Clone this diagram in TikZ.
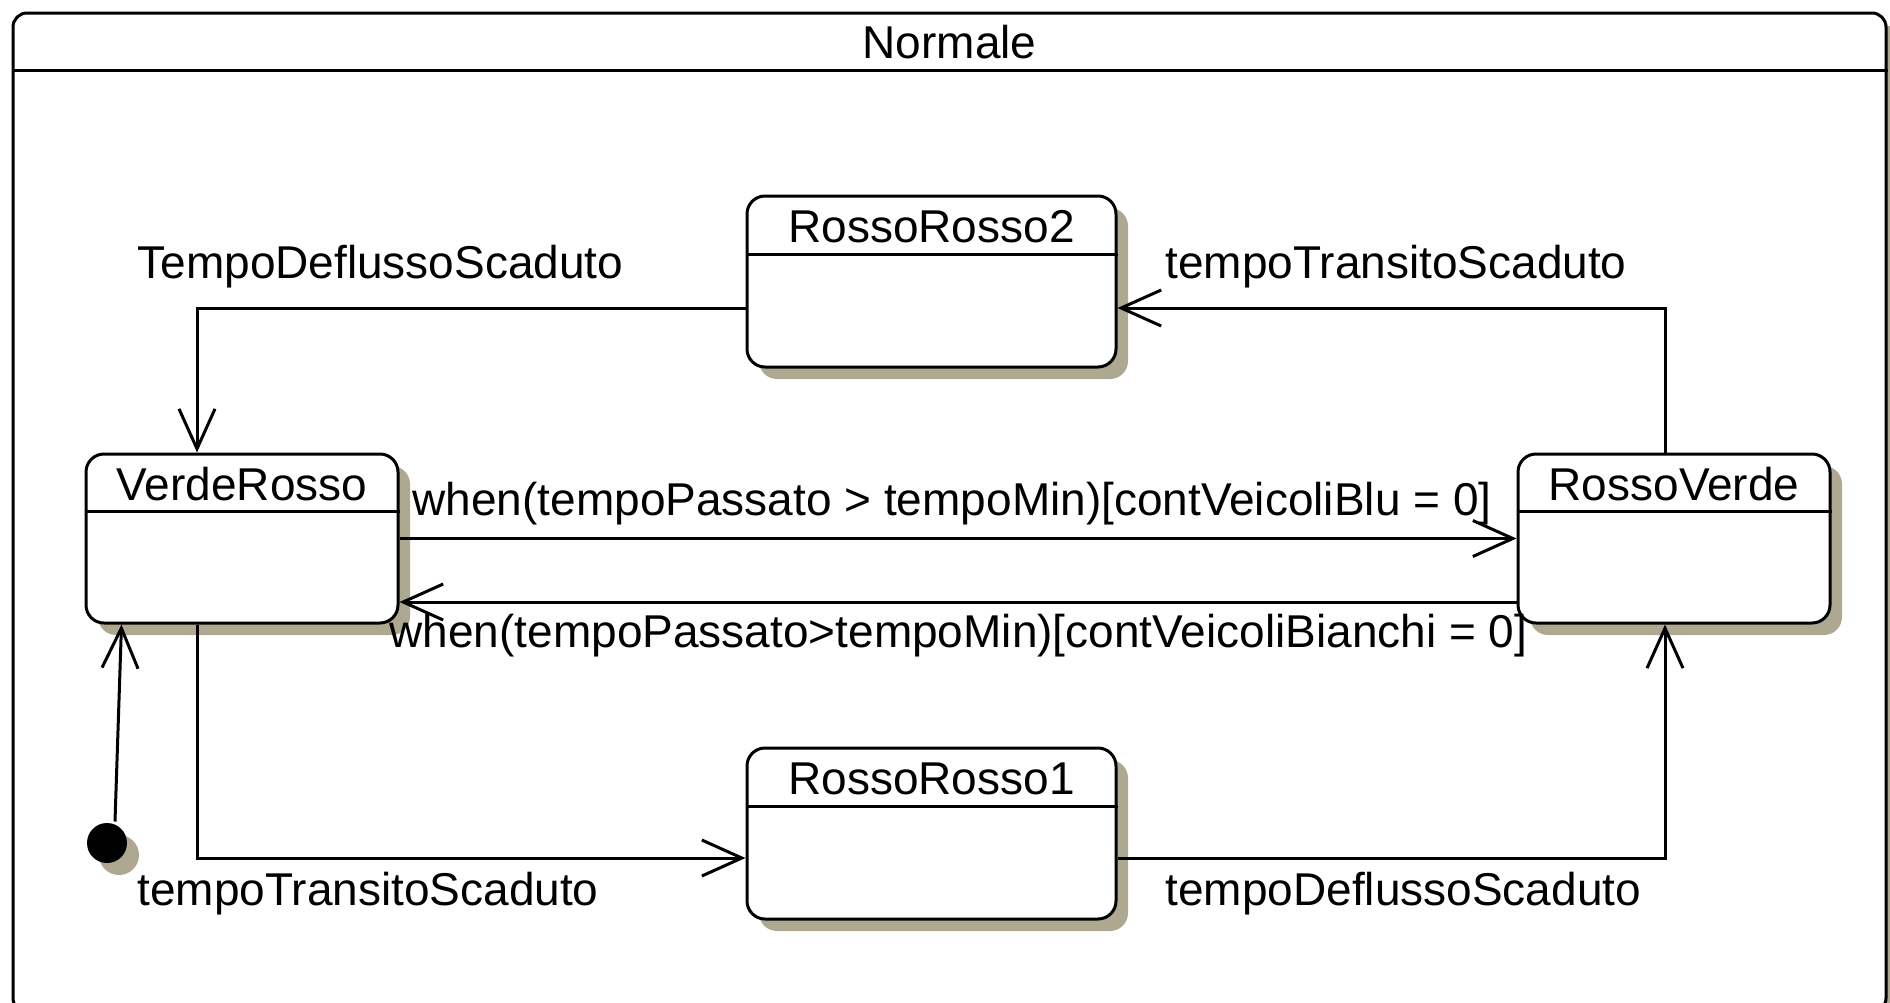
\documentclass[tikz,border=0pt]{standalone}
\usepackage{fontspec}
\setmainfont{Liberation Sans}
\usetikzlibrary{arrows.meta,shadows,calc}
\definecolor{shadowc}{HTML}{ADA88F}
\begin{document}
\begin{tikzpicture}[x=0.5pt,y=-0.5pt, line width=1.5pt,
  every node/.style={font=\fontsize{23}{27}\selectfont, inner sep=0pt},
  shad/.style={drop shadow={shadow xshift=6pt, shadow yshift=-6pt, fill=shadowc, opacity=1}},
  statebox/.style={draw, fill=white, rounded corners=9pt, shad},
  smallstate/.style={statebox, minimum width=156pt, minimum height=84.5pt},
  bigstate/.style={statebox, minimum width=184.5pt, minimum height=85.5pt},
  arr/.style={-{Straight Barb[length=20pt,width=18pt,line width=1.5pt]}},
  lbl/.style={anchor=west}]
\useasboundingbox (0,0) rectangle (1890,1002);
\begin{scope}
\clip (0,0) rectangle (1890,1002);
\node[draw, fill=white, rounded corners=7pt, minimum width=936.5pt, minimum height=499.5pt, shad] (normale) at (949.5,512.5) {};
\end{scope}
\draw ($(normale.north west)+(0,59)$) -- ($(normale.north east)+(0,59)$);
\node (title) at ($(normale.north)+(0,31)$) {Normale};

% states
\node[smallstate] (vr) at (242,538.5) {};
\draw ($(vr.north west)+(0,59)$) -- ($(vr.north east)+(0,59)$);
\node (vrt) at ($(vr.north)+(0,32)$) {VerdeRosso};

\node[smallstate] (rv) at (1674,538.5) {};
\draw ($(rv.north west)+(0,59)$) -- ($(rv.north east)+(0,59)$);
\node (rvt) at ($(rv.north)+(0,32)$) {RossoVerde};

\node[bigstate] (rr2) at (931.5,281.5) {};
\draw ($(rr2.north west)+(0,60)$) -- ($(rr2.north east)+(0,60)$);
\node (rr2t) at ($(rr2.north)+(0,32)$) {RossoRosso2};

\node[bigstate] (rr1) at (931.5,833.5) {};
\draw ($(rr1.north west)+(0,60)$) -- ($(rr1.north east)+(0,60)$);
\node (rr1t) at ($(rr1.north)+(0,32)$) {RossoRosso1};

\node[circle, fill=black, minimum size=20pt, shad] (init) at (107,843) {};

% transitions
\draw[arr] ([xshift=4pt]init.north) -- ([xshift=18.5pt]vr.south west);
\draw[arr] ([xshift=-22.5pt]vr.south) |- ([yshift=-12.25pt]rr1.west);
\draw[arr] ([yshift=-12.25pt]rr1.east) -| ([xshift=-4.5pt]rv.south);
\draw[arr] ([xshift=-4.5pt]rv.north) |- ([yshift=-13.25pt]rr2.east);
\draw[arr] ([yshift=-13.25pt]rr2.west) -| ([xshift=-22.5pt]vr.north);
\draw[arr] (vr.east) -- (rv.west);
\draw[arr] ([yshift=-31.75pt]rv.west) -- ([yshift=-31.75pt]vr.east);

% labels
\node[lbl] (l1) at (136,267) {TempoDeflussoScaduto};
\node[lbl] (l2) at (1164,267) {tempoTransitoScaduto};
\node[lbl] (l3) at (411,504) {when(tempoPassato > tempoMin)[contVeicoliBlu = 0]};
\node[lbl] (l4) at (388,636) {when(tempoPassato>tempoMin)[contVeicoliBianchi = 0]};
\node[lbl] (l5) at (136,894) {tempoTransitoScaduto};
\node[lbl] (l6) at (1164,894) {tempoDeflussoScaduto};
\end{tikzpicture}
\end{document}
